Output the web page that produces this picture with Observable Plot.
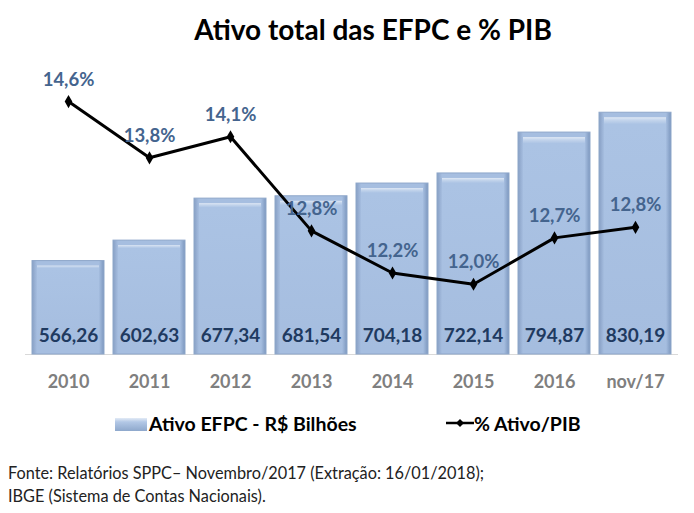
<!DOCTYPE html>
<html>
<head>
<meta charset="utf-8">
<script src="https://cdn.jsdelivr.net/npm/d3@7"></script>
<script src="https://cdn.jsdelivr.net/npm/@observablehq/plot@0.6"></script>
<style>
  html, body { margin: 0; padding: 0; background: #fff; }
  #wrap { position: relative; width: 694px; height: 513px; font-family: Lato, "Open Sans", sans-serif; }
  #title { position: absolute; left: 0; width: 746px; top: 11px; text-align: center; font-size: 28px; font-weight: 700; color: #000; line-height: 36px; }
  #chart { position: absolute; left: 0; top: 0; }
  .leg { position: absolute; font-size: 19.5px; font-weight: 700; color: #000; line-height: 24px; white-space: nowrap; }
  #caption { position: absolute; left: 8px; top: 461px; font-size: 16.3px; line-height: 23px; color: #222; white-space: nowrap; }
</style>
</head>
<body>
<div id="wrap">
  <div id="chart"></div>
  <div id="title">Ativo total das EFPC e % PIB</div>
  <svg style="position:absolute;left:114px;top:417px" width="34" height="15"><defs><linearGradient id="lg" x1="0" y1="0" x2="0" y2="1"><stop offset="0" stop-color="#e3ebf6"/><stop offset="0.3" stop-color="#b3c8e6"/><stop offset="1" stop-color="#8ea8cc"/></linearGradient></defs><rect x="1" y="1" width="32" height="13" fill="url(#lg)"/></svg>
  <div class="leg" style="left:149px;top:412px">Ativo EFPC - R$ Bilhões</div>
  <svg style="position:absolute;left:446px;top:416px" width="28" height="14"><line x1="0" y1="7" x2="28" y2="7" stroke="#000" stroke-width="2.5"/><path d="M14,3 L18,7 L14,11 L10,7 Z" fill="#000"/></svg>
  <div class="leg" style="left:474px;top:412px">% Ativo/PIB</div>
  <div id="caption">Fonte: Relatórios SPPC– Novembro/2017 (Extração: 16/01/2018);<br>IBGE (Sistema de Contas Nacionais).</div>
</div>
<script>
const categories = ["2010", "2011", "2012", "2013", "2014", "2015", "2016", "nov/17"];
const ativo = [566.26, 602.63, 677.34, 681.54, 704.18, 722.14, 794.87, 830.19];
const pctPIB = [14.6, 13.8, 14.1, 12.76, 12.16, 12.0, 12.66, 12.81];

const ativoDomain = [400, 900];
const pctDomain = [11, 15];
const toY = p => ativoDomain[0] + (p - pctDomain[0]) * (ativoDomain[1] - ativoDomain[0]) / (pctDomain[1] - pctDomain[0]);

const data = categories.map((c, i) => ({
  cat: c,
  ativo: ativo[i],
  pct: pctPIB[i],
  pctY: toY(pctPIB[i]),
  ativoLabel: ativo[i].toFixed(2).replace(".", ","),
  pctLabel: pctPIB[i].toFixed(1).replace(".", ",") + "%"
}));

const chart = Plot.plot({
  width: 694,
  height: 513,
  marginLeft: 25,
  marginRight: 16,
  marginTop: 73,
  marginBottom: 159,
  style: { fontFamily: "Lato, 'Open Sans', sans-serif", background: "transparent" },
  x: { domain: categories, paddingInner: 0.105, paddingOuter: 0.0525, axis: null },
  y: { domain: ativoDomain, axis: null },
  marks: [
    Plot.ruleY([ativoDomain[0]], { stroke: "#d9d9d9", strokeWidth: 1 }),
    Plot.barY(data, { x: "cat", y1: ativoDomain[0], y2: "ativo", fill: "url(#barGrad)", stroke: "#8ea7ca", strokeWidth: 1 }),
    Plot.barY(data, { x: "cat", y1: ativoDomain[0], y2: "ativo", fill: "url(#barGradV)", insetLeft: 5, insetRight: 5, insetTop: 5, insetBottom: 4 }),
    Plot.text(data, { x: "cat", y: ativoDomain[0], text: "ativoLabel", dy: -19, fill: "#1f3a60", fontSize: 19, fontWeight: 700 }),
    Plot.text(data, { x: "cat", y: ativoDomain[0], text: "cat", dy: 28, fill: "#7f7f7f", fontSize: 18, fontWeight: 700 }),
    Plot.line(data, { x: "cat", y: "pctY", stroke: "#000", strokeWidth: 3 }),
    Plot.dot(data, { x: "cat", y: "pctY", symbol: "diamond", r: 4, fill: "#000" }),
    Plot.text(data, { x: "cat", y: "pctY", text: "pctLabel", dy: -22, fill: "#44648e", fontSize: 18.5, fontWeight: 700 })
  ]
});

const defs = d3.select(chart).insert("defs", ":first-child");
const g1 = defs.append("linearGradient").attr("id", "barGrad").attr("x1", 0).attr("y1", 0).attr("x2", 1).attr("y2", 0);
g1.append("stop").attr("offset", "0").attr("stop-color", "#879fc4");
g1.append("stop").attr("offset", "0.07").attr("stop-color", "#a6bee0");
g1.append("stop").attr("offset", "0.93").attr("stop-color", "#a6bee0");
g1.append("stop").attr("offset", "1").attr("stop-color", "#7c97be");
const g2 = defs.append("linearGradient").attr("id", "barGradV").attr("x1", 0).attr("y1", 0).attr("x2", 0).attr("y2", 1);
g2.append("stop").attr("offset", "0").attr("stop-color", "#dfe8f5");
g2.append("stop").attr("offset", "0.012").attr("stop-color", "#c4d5ec");
g2.append("stop").attr("offset", "0.03").attr("stop-color", "#abc3e4");
g2.append("stop").attr("offset", "1").attr("stop-color", "#a5bddf");

document.getElementById("chart").appendChild(chart);
</script>
</body>
</html>
